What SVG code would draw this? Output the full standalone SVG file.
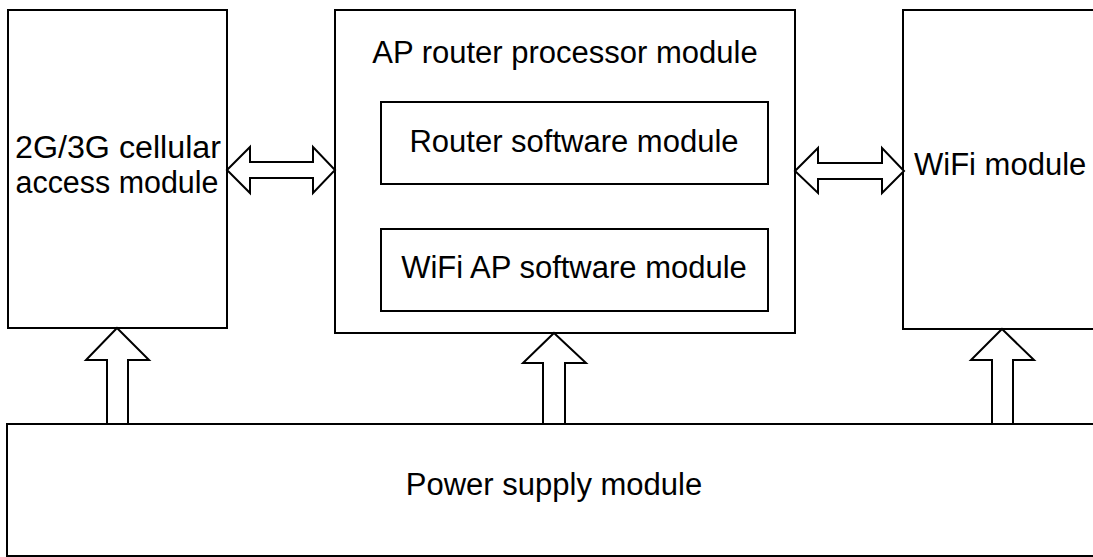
<svg xmlns="http://www.w3.org/2000/svg" width="1093" height="557" viewBox="0 0 1093 557">
<style>
.box{fill:#fff;stroke:#000;stroke-width:2}
.arr{fill:#fff;stroke:#000;stroke-width:2;stroke-linejoin:miter}
.t{font-family:"Liberation Sans",Arial,sans-serif;font-size:31px;fill:#000}
.c{text-anchor:middle}
</style>
<rect width="1093" height="557" fill="#fff"/>
<g id="cellular">
<rect class="box" x="8" y="10" width="219" height="318"/>
<text class="t c" x="118" y="158" textLength="206" lengthAdjust="spacingAndGlyphs">2G/3G cellular</text>
<text class="t c" x="117" y="193" textLength="203" lengthAdjust="spacingAndGlyphs">access module</text>
</g>
<g id="ap-router">
<rect class="box" x="335" y="10" width="460" height="323"/>
<text class="t c" x="565" y="63">AP router processor module</text>
</g>
<g id="router-sw">
<rect class="box" x="381" y="102" width="387" height="82"/>
<text class="t c" x="574" y="152">Router software module</text>
</g>
<g id="wifi-ap-sw">
<rect class="box" x="381" y="229" width="387" height="82"/>
<text class="t c" x="574" y="278">WiFi AP software module</text>
</g>
<g id="wifi">
<rect class="box" x="903" y="10" width="220" height="319"/>
<text class="t" x="914" y="175">WiFi module</text>
</g>
<g id="power">
<rect class="box" x="7" y="424" width="1100" height="132"/>
<text class="t c" x="554" y="495">Power supply module</text>
</g>
<g id="connectors">
<polygon class="arr" points="227,170 250,147 250,162 313,162 313,147 335,170 313,193 313,178 250,178 250,193"/>
<polygon class="arr" points="795,171 818,148 818,163 882,163 882,148 904,171 882,193 882,179 818,179 818,193"/>
<polygon class="arr" points="117,328 149,360 128,360 128,424 107,424 107,360 86,360"/>
<polygon class="arr" points="554,333 586,363 565,363 565,424 543,424 543,363 523,363"/>
<polygon class="arr" points="1002,329 1034,360 1013,360 1013,424 992,424 992,360 971,360"/>
</g>
</svg>
